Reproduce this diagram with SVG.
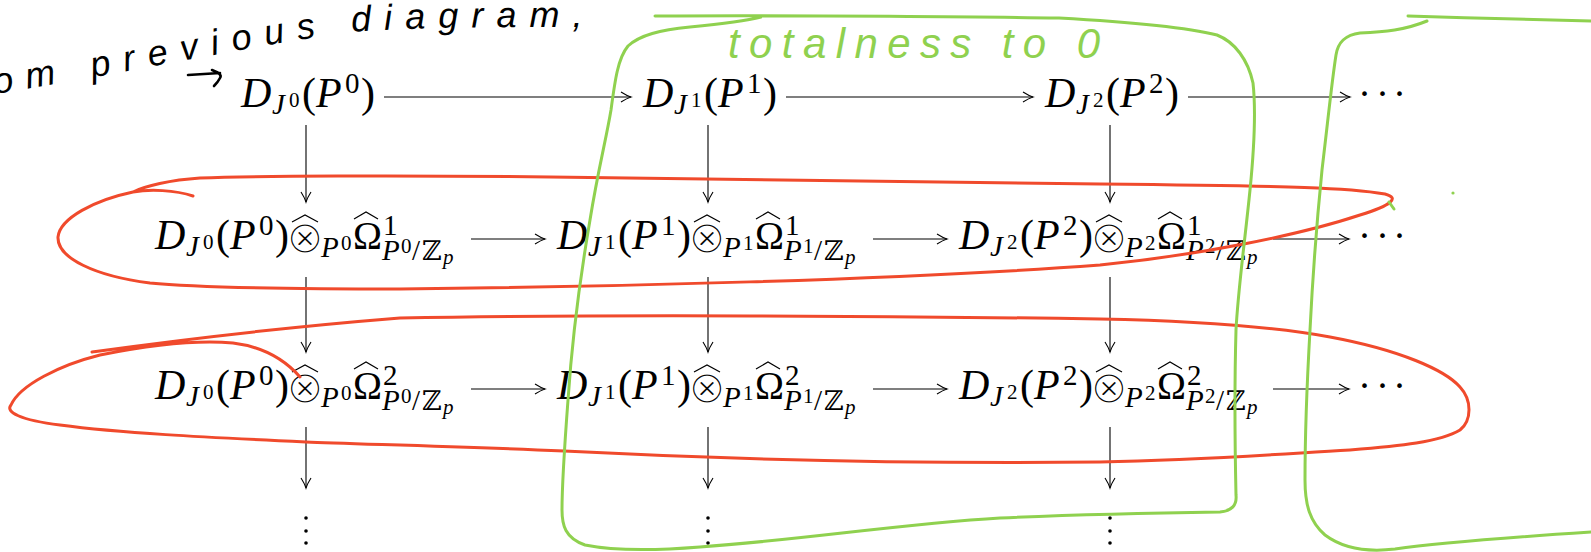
<svg xmlns="http://www.w3.org/2000/svg" width="1591" height="552" viewBox="0 0 1591 552">
<defs>
<style>
.m{font-family:"Liberation Serif",serif;font-size:42px;fill:#000}
.i{font-style:italic}
.s{font-size:29px}
.ss{font-size:21px}
.om{font-size:39px}
.zz{font-size:27px}
.op{font-family:"DejaVu Sans",sans-serif;font-size:46px;fill:#000;stroke:#fff;stroke-width:2px;text-anchor:middle}
.bb{font-family:"DejaVu Serif","DejaVu Sans",serif}
.hat{fill:none;stroke:#000;stroke-width:1.2;stroke-linejoin:miter}
.ar{fill:none;stroke:#000;stroke-width:1.1;marker-end:url(#ah)}
.dots{font-family:"Liberation Serif",serif;font-size:39px;fill:#000}
.red{fill:none;stroke:#F04A2C;stroke-width:3;stroke-linecap:round;stroke-linejoin:round}
.grn{fill:none;stroke:#8FD14F;stroke-width:3;stroke-linecap:round;stroke-linejoin:round}
.hw{font-family:"Liberation Sans",sans-serif;font-style:italic}
</style>
<marker id="ah" viewBox="-12 -6 14 12" refX="0" refY="0" markerWidth="14" markerHeight="12" orient="auto" markerUnits="userSpaceOnUse">
<path d="M-10,-5 Q-4,-1.2 0,0 Q-4,1.2 -10,5" fill="none" stroke="#000" stroke-width="1.1"/>
</marker>
<path id="hwpath" d="M-5,94 C100,78 250,46 350,32 C420,27 500,27 610,27"/>
</defs>
<rect width="1591" height="552" fill="#fff"/>

<g id="n-r1c0">
<text class="m"><tspan class="i" x="241" y="107">D</tspan><tspan class="i s" x="272" y="114">J</tspan><tspan class="ss" x="289" y="107">0</tspan><tspan x="302" y="107">(</tspan><tspan class="i" x="316" y="107">P</tspan><tspan class="s" x="345" y="93">0</tspan><tspan x="361" y="107">)</tspan></text>
</g>
<g id="n-r1c1">
<text class="m"><tspan class="i" x="643" y="107">D</tspan><tspan class="i s" x="674" y="114">J</tspan><tspan class="ss" x="691" y="107">1</tspan><tspan x="704" y="107">(</tspan><tspan class="i" x="718" y="107">P</tspan><tspan class="s" x="747" y="93">1</tspan><tspan x="763" y="107">)</tspan></text>
</g>
<g id="n-r1c2">
<text class="m"><tspan class="i" x="1045" y="107">D</tspan><tspan class="i s" x="1076" y="114">J</tspan><tspan class="ss" x="1093" y="107">2</tspan><tspan x="1106" y="107">(</tspan><tspan class="i" x="1120" y="107">P</tspan><tspan class="s" x="1149" y="93">2</tspan><tspan x="1165" y="107">)</tspan></text>
</g>
<g id="n-r1c3"><text class="dots"><tspan x="1358" y="107">·</tspan><tspan x="1376" y="107">·</tspan><tspan x="1393" y="107">·</tspan></text></g>

<g id="n-r2c0">
<text class="m"><tspan class="i" x="155" y="249">D</tspan><tspan class="i s" x="186" y="256">J</tspan><tspan class="ss" x="203" y="249">0</tspan><tspan x="216" y="249">(</tspan><tspan class="i" x="230" y="249">P</tspan><tspan class="s" x="259" y="235">0</tspan><tspan x="275" y="249">)</tspan><tspan class="i s" x="321" y="257">P</tspan><tspan class="ss" x="341" y="250">0</tspan><tspan class="om" x="353" y="249">Ω</tspan><tspan class="s" x="383" y="235">1</tspan><tspan class="i s" x="382" y="260">P</tspan><tspan class="ss" x="401" y="253">0</tspan><tspan class="s" x="412" y="260">/</tspan><tspan class="zz bb" x="422" y="260">ℤ</tspan><tspan class="i ss" x="443" y="264">p</tspan></text>
<text class="op" x="305" y="253">⊗</text>
<path class="hat" d="M292,222 L305,215 L318,222 M354,219 L366,212 L378,219"/>
</g>
<g id="n-r2c1">
<text class="m"><tspan class="i" x="557" y="249">D</tspan><tspan class="i s" x="588" y="256">J</tspan><tspan class="ss" x="605" y="249">1</tspan><tspan x="618" y="249">(</tspan><tspan class="i" x="632" y="249">P</tspan><tspan class="s" x="661" y="235">1</tspan><tspan x="677" y="249">)</tspan><tspan class="i s" x="723" y="257">P</tspan><tspan class="ss" x="743" y="250">1</tspan><tspan class="om" x="755" y="249">Ω</tspan><tspan class="s" x="785" y="235">1</tspan><tspan class="i s" x="784" y="260">P</tspan><tspan class="ss" x="803" y="253">1</tspan><tspan class="s" x="814" y="260">/</tspan><tspan class="zz bb" x="824" y="260">ℤ</tspan><tspan class="i ss" x="845" y="264">p</tspan></text>
<text class="op" x="707" y="253">⊗</text>
<path class="hat" d="M694,222 L707,215 L720,222 M756,219 L768,212 L780,219"/>
</g>
<g id="n-r2c2">
<text class="m"><tspan class="i" x="959" y="249">D</tspan><tspan class="i s" x="990" y="256">J</tspan><tspan class="ss" x="1007" y="249">2</tspan><tspan x="1020" y="249">(</tspan><tspan class="i" x="1034" y="249">P</tspan><tspan class="s" x="1063" y="235">2</tspan><tspan x="1079" y="249">)</tspan><tspan class="i s" x="1125" y="257">P</tspan><tspan class="ss" x="1145" y="250">2</tspan><tspan class="om" x="1157" y="249">Ω</tspan><tspan class="s" x="1187" y="235">1</tspan><tspan class="i s" x="1186" y="260">P</tspan><tspan class="ss" x="1205" y="253">2</tspan><tspan class="s" x="1216" y="260">/</tspan><tspan class="zz bb" x="1226" y="260">ℤ</tspan><tspan class="i ss" x="1247" y="264">p</tspan></text>
<text class="op" x="1109" y="253">⊗</text>
<path class="hat" d="M1096,222 L1109,215 L1122,222 M1158,219 L1170,212 L1182,219"/>
</g>
<g id="n-r2c3"><text class="dots"><tspan x="1358" y="249">·</tspan><tspan x="1376" y="249">·</tspan><tspan x="1393" y="249">·</tspan></text></g>

<g id="n-r3c0">
<text class="m"><tspan class="i" x="155" y="399">D</tspan><tspan class="i s" x="186" y="406">J</tspan><tspan class="ss" x="203" y="399">0</tspan><tspan x="216" y="399">(</tspan><tspan class="i" x="230" y="399">P</tspan><tspan class="s" x="259" y="385">0</tspan><tspan x="275" y="399">)</tspan><tspan class="i s" x="321" y="407">P</tspan><tspan class="ss" x="341" y="400">0</tspan><tspan class="om" x="353" y="399">Ω</tspan><tspan class="s" x="383" y="385">2</tspan><tspan class="i s" x="382" y="410">P</tspan><tspan class="ss" x="401" y="403">0</tspan><tspan class="s" x="412" y="410">/</tspan><tspan class="zz bb" x="422" y="410">ℤ</tspan><tspan class="i ss" x="443" y="414">p</tspan></text>
<text class="op" x="305" y="403">⊗</text>
<path class="hat" d="M292,372 L305,365 L318,372 M354,369 L366,362 L378,369"/>
</g>
<g id="n-r3c1">
<text class="m"><tspan class="i" x="557" y="399">D</tspan><tspan class="i s" x="588" y="406">J</tspan><tspan class="ss" x="605" y="399">1</tspan><tspan x="618" y="399">(</tspan><tspan class="i" x="632" y="399">P</tspan><tspan class="s" x="661" y="385">1</tspan><tspan x="677" y="399">)</tspan><tspan class="i s" x="723" y="407">P</tspan><tspan class="ss" x="743" y="400">1</tspan><tspan class="om" x="755" y="399">Ω</tspan><tspan class="s" x="785" y="385">2</tspan><tspan class="i s" x="784" y="410">P</tspan><tspan class="ss" x="803" y="403">1</tspan><tspan class="s" x="814" y="410">/</tspan><tspan class="zz bb" x="824" y="410">ℤ</tspan><tspan class="i ss" x="845" y="414">p</tspan></text>
<text class="op" x="707" y="403">⊗</text>
<path class="hat" d="M694,372 L707,365 L720,372 M756,369 L768,362 L780,369"/>
</g>
<g id="n-r3c2">
<text class="m"><tspan class="i" x="959" y="399">D</tspan><tspan class="i s" x="990" y="406">J</tspan><tspan class="ss" x="1007" y="399">2</tspan><tspan x="1020" y="399">(</tspan><tspan class="i" x="1034" y="399">P</tspan><tspan class="s" x="1063" y="385">2</tspan><tspan x="1079" y="399">)</tspan><tspan class="i s" x="1125" y="407">P</tspan><tspan class="ss" x="1145" y="400">2</tspan><tspan class="om" x="1157" y="399">Ω</tspan><tspan class="s" x="1187" y="385">2</tspan><tspan class="i s" x="1186" y="410">P</tspan><tspan class="ss" x="1205" y="403">2</tspan><tspan class="s" x="1216" y="410">/</tspan><tspan class="zz bb" x="1226" y="410">ℤ</tspan><tspan class="i ss" x="1247" y="414">p</tspan></text>
<text class="op" x="1109" y="403">⊗</text>
<path class="hat" d="M1096,372 L1109,365 L1122,372 M1158,369 L1170,362 L1182,369"/>
</g>
<g id="n-r3c3"><text class="dots"><tspan x="1358" y="399">·</tspan><tspan x="1376" y="399">·</tspan><tspan x="1393" y="399">·</tspan></text></g>

<g id="n-r4c0" fill="#000"><circle cx="306" cy="518" r="1.8"/><circle cx="306" cy="531" r="1.8"/><circle cx="306" cy="543" r="1.8"/></g>
<g id="n-r4c1" fill="#000"><circle cx="708" cy="518" r="1.8"/><circle cx="708" cy="531" r="1.8"/><circle cx="708" cy="543" r="1.8"/></g>
<g id="n-r4c2" fill="#000"><circle cx="1110" cy="518" r="1.8"/><circle cx="1110" cy="531" r="1.8"/><circle cx="1110" cy="543" r="1.8"/></g>

<g id="connectors">
<line class="ar" x1="384" y1="97" x2="631" y2="97"/>
<line class="ar" x1="786" y1="97" x2="1033" y2="97"/>
<line class="ar" x1="1188" y1="97" x2="1350" y2="97"/>
<line class="ar" x1="471" y1="239" x2="545" y2="239"/>
<line class="ar" x1="873" y1="239" x2="947" y2="239"/>
<line class="ar" x1="1273" y1="239" x2="1349" y2="239"/>
<line class="ar" x1="471" y1="389" x2="545" y2="389"/>
<line class="ar" x1="873" y1="389" x2="947" y2="389"/>
<line class="ar" x1="1273" y1="389" x2="1349" y2="389"/>
<line class="ar" x1="306" y1="125" x2="306" y2="202"/>
<line class="ar" x1="708" y1="125" x2="708" y2="202"/>
<line class="ar" x1="1110" y1="125" x2="1110" y2="202"/>
<line class="ar" x1="306" y1="277" x2="306" y2="352"/>
<line class="ar" x1="708" y1="277" x2="708" y2="352"/>
<line class="ar" x1="1110" y1="277" x2="1110" y2="352"/>
<line class="ar" x1="306" y1="427" x2="306" y2="488"/>
<line class="ar" x1="708" y1="427" x2="708" y2="488"/>
<line class="ar" x1="1110" y1="427" x2="1110" y2="488"/>
</g>

<g id="annotations">
<text class="hw" font-size="36" letter-spacing="13"><textPath href="#hwpath">om previous diagram,</textPath></text>
<path d="M188,75 L220,73 M212,70 Q223,74 220,78 Q218,82 214,86" fill="none" stroke="#000" stroke-width="2.6" stroke-linecap="round"/>
<text class="hw" x="728" y="58" font-size="42" fill="#8FD14F" textLength="372" lengthAdjust="spacing">totalness to 0</text>
<path class="red" d="M193,196 C175,190 150,189 133,192 C95,200 60,218 58,237 C57,258 95,276 150,283 C200,288 300,289 400,289 C600,287 900,280 1100,265 C1200,255 1300,235 1360,215 C1392,205 1400,198 1385,194 C1350,188 1300,186 1100,184 C900,181 700,178 550,177 C400,175 250,176 200,178 C170,180 145,186 133,192"/>
<path class="red" d="M92,352 C150,344 250,330 400,318 C600,314 900,316 1100,319 C1200,321 1280,328 1330,337 C1400,350 1445,370 1460,387 C1472,400 1472,420 1460,430 C1440,442 1400,446 1350,450 C1250,456 1200,460 1100,462 C900,464 700,458 564,451 C450,446 350,444 306,442 C200,437 120,433 60,425 C20,420 5,412 11,405 C20,385 60,365 100,355 C150,345 200,340 233,343 C265,347 285,360 300,377"/>
<path class="grn" d="M655,16 C800,15 1000,17 1059,18 C1130,22 1185,27 1217,35 C1235,42 1248,60 1253,83 C1256,110 1254,150 1250,190 C1245,240 1238,290 1236,330 C1234,400 1235,450 1236,495 C1237,505 1232,511 1220,512 C1150,513 1090,514 1000,518 C900,524 800,540 700,547 C650,551 610,550 585,545 C565,538 562,525 562,510 C562,480 565,440 568,400 C572,340 578,290 590,220 C598,170 606,140 611,110 C615,80 618,58 628,46 C640,35 660,30 690,27 C720,24 745,21 761,17"/>
<path class="grn" d="M1408,16 C1470,18 1540,20 1591,21"/>
<path class="grn" d="M1427,21 C1405,30 1385,32 1360,33 C1345,35 1338,42 1336,55 C1332,80 1328,120 1322,170 C1315,240 1312,290 1310,330 C1306,400 1305,450 1305,480 C1305,505 1310,522 1325,535 C1345,550 1370,552 1395,549 C1430,544 1500,538 1591,532"/>
<path class="grn" d="M1389,202 L1394,209"/>
<circle cx="1453" cy="193" r="1.6" fill="#8FD14F"/>
</g>
</svg>
